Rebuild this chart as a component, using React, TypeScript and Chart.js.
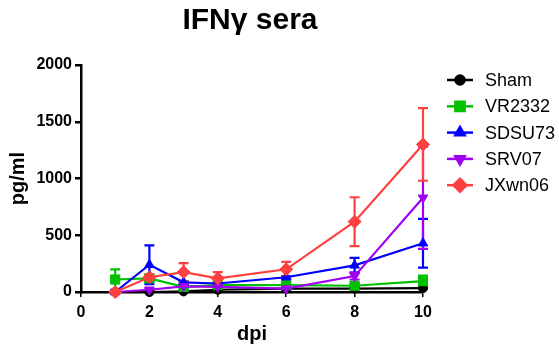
import React, { useEffect, useRef } from "react";
import { Chart, registerables } from "chart.js";
import { drawPoint } from "chart.js/helpers";

Chart.register(...registerables);

const xValues = [1, 2, 3, 4, 6, 8, 10];
const seriesNames = ["Sham", "VR2332", "SDSU73", "SRV07", "JXwn06"];
const shamValues = [0, 0, 5, 20, 30, 30, 35];
const shamErr = [0, 0, 5, 5, 5, 5, 5];
const vr2332Values = [110, 120, 45, 60, 60, 55, 95];
const vr2332Err = [90, 30, 15, 15, 15, 15, 50];
const sdsu73Values = [0, 240, 85, 75, 130, 235, 430];
const sdsu73Err = [0, 170, 10, 10, 10, 65, 215];
const srv07Values = [0, 20, 50, 45, 30, 140, 830];
const srv07Err = [0, 10, 10, 10, 10, 30, 450];
const jxwn06Values = [0, 130, 175, 120, 200, 620, 1300];
const jxwn06Err = [0, 25, 80, 55, 65, 215, 320];
const yTicks = [0, 500, 1000, 1500, 2000];
const xTicks = [0, 2, 4, 6, 8, 10];

const colors = ["#000000", "#00c000", "#0000ff", "#a000f0", "#ff4040"];
const pointStyles = ["circle", "rect", "triangle", "triangle", "rectRot"];
const pointRotations = [0, 0, 0, 180, 0];
const pointRadii = [4.5, 6.5, 5.5, 5.5, 6.5];
const allValues = [shamValues, vr2332Values, sdsu73Values, srv07Values, jxwn06Values];
const allErrs = [shamErr, vr2332Err, sdsu73Err, srv07Err, jxwn06Err];

const errorBarPlugin = {
  id: "errorBars",
  beforeDatasetsDraw(chart: any) {
    const ctx = chart.ctx;
    const xs = chart.scales.x;
    const ys = chart.scales.y;
    for (let d = 0; d < allValues.length; d++) {
      const errs = allErrs[d];
      ctx.save();
      ctx.strokeStyle = colors[d];
      ctx.lineWidth = 2.2;
      for (let i = 0; i < xValues.length; i++) {
        const e = errs[i];
        if (!e) continue;
        const px = xs.getPixelForValue(xValues[i]);
        const top = ys.getPixelForValue(allValues[d][i] + e);
        const bot = ys.getPixelForValue(Math.max(0, allValues[d][i] - e));
        ctx.beginPath();
        ctx.moveTo(px, top);
        ctx.lineTo(px, bot);
        ctx.moveTo(px - 5, top);
        ctx.lineTo(px + 5, top);
        ctx.moveTo(px - 5, bot);
        ctx.lineTo(px + 5, bot);
        ctx.stroke();
      }
      ctx.restore();
    }
  },
};

const titleLegendPlugin = {
  id: "titleLegend",
  afterDraw(chart: any) {
    const ctx = chart.ctx;
    ctx.save();
    ctx.fillStyle = "#000";
    ctx.font = "bold 30px 'Liberation Sans', Arial, sans-serif";
    ctx.textAlign = "center";
    ctx.textBaseline = "alphabetic";
    ctx.fillText("IFN\u03b3 sera", 250, 29);

    ctx.font = "18px 'Liberation Sans', Arial, sans-serif";
    ctx.textAlign = "left";
    ctx.textBaseline = "middle";
    for (let i = 0; i < seriesNames.length; i++) {
      const y = 80 + i * 26.3;
      ctx.strokeStyle = colors[i];
      ctx.lineWidth = 2.5;
      ctx.beginPath();
      ctx.moveTo(447, y);
      ctx.lineTo(473, y);
      ctx.stroke();
      ctx.fillStyle = colors[i];
      drawPoint(
        ctx,
        {
          pointStyle: pointStyles[i],
          rotation: pointRotations[i],
          radius: pointRadii[i],
          borderWidth: 1,
        } as any,
        460,
        y
      );
      ctx.fillStyle = "#000";
      ctx.fillText(seriesNames[i], 485, y + 1);
    }
    ctx.restore();
  },
};

export default function App() {
  const ref = useRef<HTMLCanvasElement | null>(null);
  useEffect(() => {
    document.body.style.margin = "0";
    if (!ref.current) return;
    const datasets = allValues.map((vals, d) => ({
      label: seriesNames[d],
      data: xValues.map((x, i) => ({ x, y: vals[i] })),
      borderColor: colors[d],
      backgroundColor: colors[d],
      pointBackgroundColor: colors[d],
      pointBorderColor: colors[d],
      pointStyle: pointStyles[d],
      rotation: pointRotations[d],
      pointRadius: pointRadii[d],
      borderWidth: 2.2,
      pointBorderWidth: 1,
      tension: 0,
      clip: false as any,
      order: allValues.length - d,
    }));
    const tickFont = { family: "'Liberation Sans', Arial, sans-serif", size: 16, weight: "bold" as any };
    const titleFont = { family: "'Liberation Sans', Arial, sans-serif", size: 20, weight: "bold" as any };
    const chart = new Chart(ref.current, {
      type: "line",
      data: { datasets },
      plugins: [errorBarPlugin, titleLegendPlugin],
      options: {
        animation: false,
        responsive: false,
        layout: { padding: { top: 65, right: 136, left: 0, bottom: 0 } },
        plugins: { legend: { display: false }, title: { display: false }, tooltip: { enabled: false } },
        scales: {
          x: {
            type: "linear",
            min: 0,
            max: 10,
            afterBuildTicks: (s: any) => {
              s.ticks = xTicks.map((v) => ({ value: v }));
            },
            afterFit: (s: any) => {
              s.height = 60;
            },
            ticks: { color: "#000", font: tickFont, padding: 6, maxRotation: 0, callback: (v: any) => String(v) },
            grid: { drawOnChartArea: false, drawTicks: true, tickLength: 5, color: "#000", lineWidth: 1.5 },
            border: { color: "#000", width: 2.5 },
            title: { display: true, text: "dpi", color: "#000", font: titleFont, padding: { top: 6, bottom: 6 } },
          },
          y: {
            type: "linear",
            min: 0,
            max: 2000,
            afterBuildTicks: (s: any) => {
              s.ticks = yTicks.map((v) => ({ value: v }));
            },
            afterFit: (s: any) => {
              s.width = 81;
            },
            ticks: { color: "#000", font: tickFont, padding: 3, callback: (v: any) => String(v) },
            grid: { drawOnChartArea: false, drawTicks: true, tickLength: 6, color: "#000", lineWidth: 2.5 },
            border: { color: "#000", width: 2.5 },
            title: { display: true, text: "pg/ml", color: "#000", font: titleFont, padding: { top: 6, bottom: 6 } },
          },
        },
      },
    } as any);
    return () => chart.destroy();
  }, []);
  return <canvas ref={ref} width={559} height={352} style={{ display: "block", width: 559, height: 352 }} />;
}
